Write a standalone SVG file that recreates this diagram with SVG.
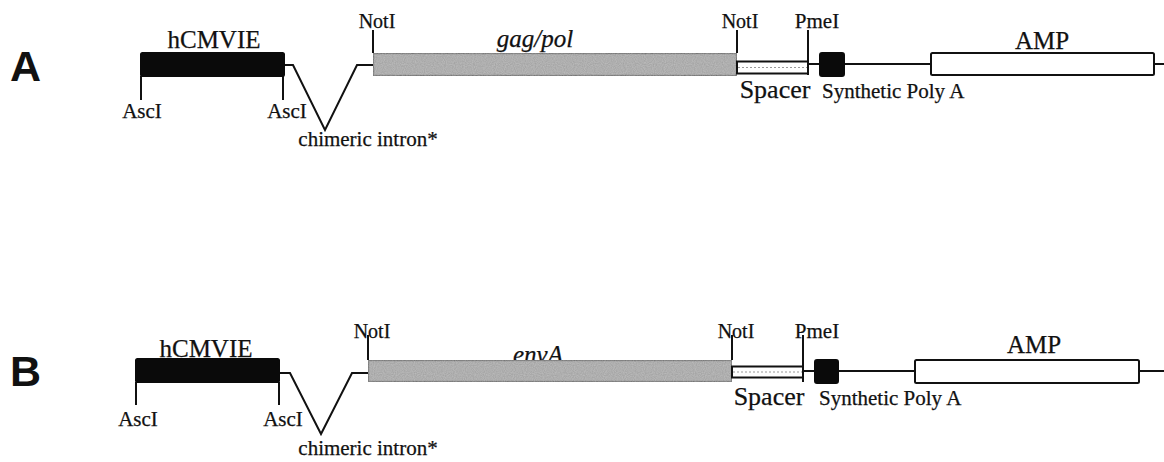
<svg xmlns="http://www.w3.org/2000/svg" width="1164" height="462" viewBox="0 0 1164 462">
<defs>
<style>
.t{font-family:"Liberation Serif","Times New Roman",serif;fill:#111;stroke:#111;stroke-width:0.25}
.lab{font-family:"Liberation Sans",Arial,sans-serif;font-weight:bold;font-size:43px;fill:#111}
.ln{stroke:#111;stroke-width:2;fill:none}
.blk{fill:#0a0a0a;stroke:#0a0a0a;stroke-width:2}
.gry{fill:#9c9c9c;stroke:#111;stroke-width:2.2}
.wht{fill:#fff;stroke:#111;stroke-width:2}
.sp{fill:#fff;stroke:#111;stroke-width:2}
.spm{stroke:#999;stroke-width:1;stroke-dasharray:2 2}
</style>
<filter id="grain" x="0" y="0" width="100%" height="100%">
<feTurbulence type="fractalNoise" baseFrequency="0.9" numOctaves="1" seed="3" result="n"/>
<feColorMatrix in="n" type="matrix" values="0.5 0 0 0 0.32  0.5 0 0 0 0.32  0.5 0 0 0 0.32  0 0 0 0 0.4" result="g"/>
<feComposite in="g" in2="SourceGraphic" operator="atop"/>
</filter>
</defs>

<!-- Panel A -->
<text class="lab" x="10" y="81">A</text>

<g id="connectors">
<polyline class="ln" points="284,65 293,65 325,130 357,65 373,65"/>
<line class="ln" x1="808" y1="64" x2="819" y2="64"/>
<line class="ln" x1="844" y1="64" x2="931" y2="64"/>
<line class="ln" x1="1154" y1="64" x2="1164" y2="64"/>
<line class="ln" x1="141" y1="76" x2="141" y2="100"/>
<line class="ln" x1="283" y1="76" x2="283" y2="100"/>
<line class="ln" x1="373" y1="30" x2="373" y2="53"/>
<line class="ln" x1="737" y1="30" x2="737" y2="53"/>
<line class="ln" x1="808" y1="30" x2="808" y2="75"/>
<polyline class="ln" points="279,373 290,373 321,434 352,373 368,373"/>
<line class="ln" x1="803" y1="371" x2="814" y2="371"/>
<line class="ln" x1="838" y1="371" x2="915" y2="371"/>
<line class="ln" x1="1139" y1="371" x2="1164" y2="371"/>
<line class="ln" x1="136" y1="382" x2="136" y2="405"/>
<line class="ln" x1="279" y1="382" x2="279" y2="405"/>
<line class="ln" x1="368" y1="335" x2="368" y2="360"/>
<line class="ln" x1="732" y1="335" x2="732" y2="360"/>
<line class="ln" x1="803" y1="335" x2="803" y2="382"/>
</g>

<g id="A-hCMVIE">
<rect class="blk" x="141" y="53" width="143" height="23" rx="1.5"/>
<text class="t" x="214" y="48" font-size="25" text-anchor="middle">hCMVIE</text>
</g>
<g id="A-AscI-1"><text class="t" x="142" y="118" font-size="21" text-anchor="middle">AscI</text></g>
<g id="A-AscI-2"><text class="t" x="287" y="118" font-size="21" text-anchor="middle">AscI</text></g>
<g id="A-intron"><text class="t" x="368" y="146" font-size="21" text-anchor="middle">chimeric intron*</text></g>
<g id="A-gagpol">
<rect class="gry" x="373" y="53" width="364" height="23" filter="url(#grain)"/>
<text class="t" x="535" y="47" font-size="25" font-style="italic" text-anchor="middle">gag/pol</text>
</g>
<g id="A-NotI-1"><text class="t" x="377" y="28" font-size="20" text-anchor="middle">NotI</text></g>
<g id="A-NotI-2"><text class="t" x="740" y="28" font-size="20" text-anchor="middle">NotI</text></g>
<g id="A-PmeI"><text class="t" x="817" y="28" font-size="21" text-anchor="middle">PmeI</text></g>
<g id="A-spacer">
<rect class="sp" x="737" y="61.5" width="71" height="12"/>
<line class="spm" x1="738" y1="67.5" x2="807" y2="67.5"/>
<text class="t" x="775" y="98" font-size="26" text-anchor="middle">Spacer</text>
</g>
<g id="A-polyA">
<rect class="blk" x="820" y="53" width="24" height="23" rx="2"/>
<text class="t" x="822" y="98" font-size="21">Synthetic Poly A</text>
</g>
<g id="A-AMP">
<rect class="wht" x="931" y="53" width="223" height="22" rx="1.5"/>
<text class="t" x="1042" y="49" font-size="25" text-anchor="middle">AMP</text>
</g>

<!-- Panel B -->
<text class="lab" x="10" y="386">B</text>

<g id="B-hCMVIE">
<text class="t" x="206" y="357" font-size="25" text-anchor="middle">hCMVIE</text>
<rect class="blk" x="136" y="359" width="143" height="23" rx="1.5"/>
</g>
<g id="B-AscI-1"><text class="t" x="138" y="426" font-size="21" text-anchor="middle">AscI</text></g>
<g id="B-AscI-2"><text class="t" x="283" y="426" font-size="21" text-anchor="middle">AscI</text></g>
<g id="B-intron"><text class="t" x="368" y="455" font-size="21" text-anchor="middle">chimeric intron*</text></g>
<g id="B-envA">
<text class="t" x="538" y="363" font-size="25" font-style="italic" text-anchor="middle">envA</text>
<rect class="gry" x="368" y="360" width="364" height="22" filter="url(#grain)"/>
</g>
<g id="B-NotI-1"><text class="t" x="372" y="338" font-size="20" text-anchor="middle">NotI</text></g>
<g id="B-NotI-2"><text class="t" x="736" y="338" font-size="20" text-anchor="middle">NotI</text></g>
<g id="B-PmeI"><text class="t" x="817" y="338" font-size="21" text-anchor="middle">PmeI</text></g>
<g id="B-spacer">
<rect class="sp" x="732" y="366.5" width="71" height="11"/>
<line class="spm" x1="733" y1="372" x2="802" y2="372"/>
<text class="t" x="769" y="405" font-size="26" text-anchor="middle">Spacer</text>
</g>
<g id="B-polyA">
<rect class="blk" x="815" y="360" width="23" height="23" rx="2"/>
<text class="t" x="819" y="405" font-size="21">Synthetic Poly A</text>
</g>
<g id="B-AMP">
<rect class="wht" x="915" y="360" width="224" height="23" rx="1.5"/>
<text class="t" x="1034" y="353" font-size="25" text-anchor="middle">AMP</text>
</g>
</svg>
